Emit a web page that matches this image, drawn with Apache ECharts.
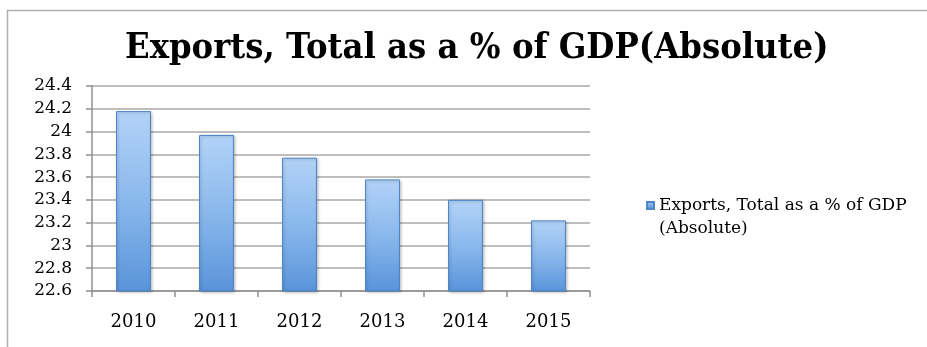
<!DOCTYPE html>
<html>
<head>
<meta charset="utf-8">
<script src="https://cdn.jsdelivr.net/npm/echarts@6/dist/echarts.min.js"></script>
<style>html,body{margin:0;padding:0;background:#fff}#c{width:927px;height:347px}</style>
</head>
<body>
<div id="c"></div>
<script>
const titleText = 'Exports, Total as a % of GDP(Absolute)';
const seriesName = 'Exports, Total as a % of GDP\n(Absolute)';
const categories = ['2010', '2011', '2012', '2013', '2014', '2015'];
const values = [24.18, 23.97, 23.77, 23.58, 23.40, 23.22];
const yMin = 22.6, yMax = 24.4, yStep = 0.2;

const chart = echarts.init(document.getElementById('c'), null, {renderer: 'canvas'});
const barGradient = new echarts.graphic.LinearGradient(0, 0, 0, 1, [
  {offset: 0, color: '#b3d3f8'},
  {offset: 0.5, color: '#8ab8ec'},
  {offset: 1, color: '#5994da'}
]);
const iconGradient = new echarts.graphic.LinearGradient(0, 0, 0, 1, [
  {offset: 0, color: '#a9cdf5'},
  {offset: 1, color: '#4f8ad4'}
]);
chart.setOption({
  animation: false,
  backgroundColor: '#fff',
  graphic: [{
    type: 'rect', left: 5, top: 8,
    shape: {width: 1000, height: 400},
    style: {fill: 'none', stroke: '#b0b0b0', lineWidth: 1.5},
    z: -1
  }],
  title: {
    text: titleText,
    left: 120,
    top: 26,
    textStyle: {fontFamily: 'DejaVu Serif Condensed', fontWeight: 'bold', fontSize: 36, color: '#000'}
  },
  legend: {
    left: 641, top: 166,
    icon: 'rect', itemWidth: 7, itemHeight: 7, itemGap: 4,
    data: [seriesName],
    formatter: name => '\u00a0\n' + name,
    itemStyle: {color: iconGradient},
    textStyle: {fontFamily: 'DejaVu Serif', fontSize: 17, color: '#000', lineHeight: 23}
  },
  grid: {left: 92, right: 337, top: 86, bottom: 56, containLabel: false},
  xAxis: {
    type: 'category', data: categories,
    axisLine: {lineStyle: {color: '#909090', width: 1.5}},
    axisTick: {show: true, length: 6, lineStyle: {color: '#909090', width: 1.5}},
    axisLabel: {margin: 22, fontFamily: 'DejaVu Serif', fontSize: 18, color: '#000'}
  },
  yAxis: {
    type: 'value', min: yMin, max: yMax, interval: yStep,
    axisLine: {show: true, lineStyle: {color: '#909090', width: 1.5}},
    axisTick: {show: true, length: 6, lineStyle: {color: '#909090', width: 1.5}},
    splitLine: {lineStyle: {color: '#a8a8a8', width: 1.5}},
    axisLabel: {margin: 20, fontFamily: 'DejaVu Serif', fontSize: 17, color: '#000',
      formatter: v => String(Math.round(v * 10) / 10)}
  },
  series: [{
    name: seriesName,
    type: 'bar',
    data: values,
    barWidth: 35,
    itemStyle: {color: barGradient, borderColor: '#4f86c8', borderWidth: 1,
      shadowColor: 'rgba(0,0,0,0.25)', shadowBlur: 3, shadowOffsetX: 1, shadowOffsetY: 1}
  }]
});
</script>
</body>
</html>
